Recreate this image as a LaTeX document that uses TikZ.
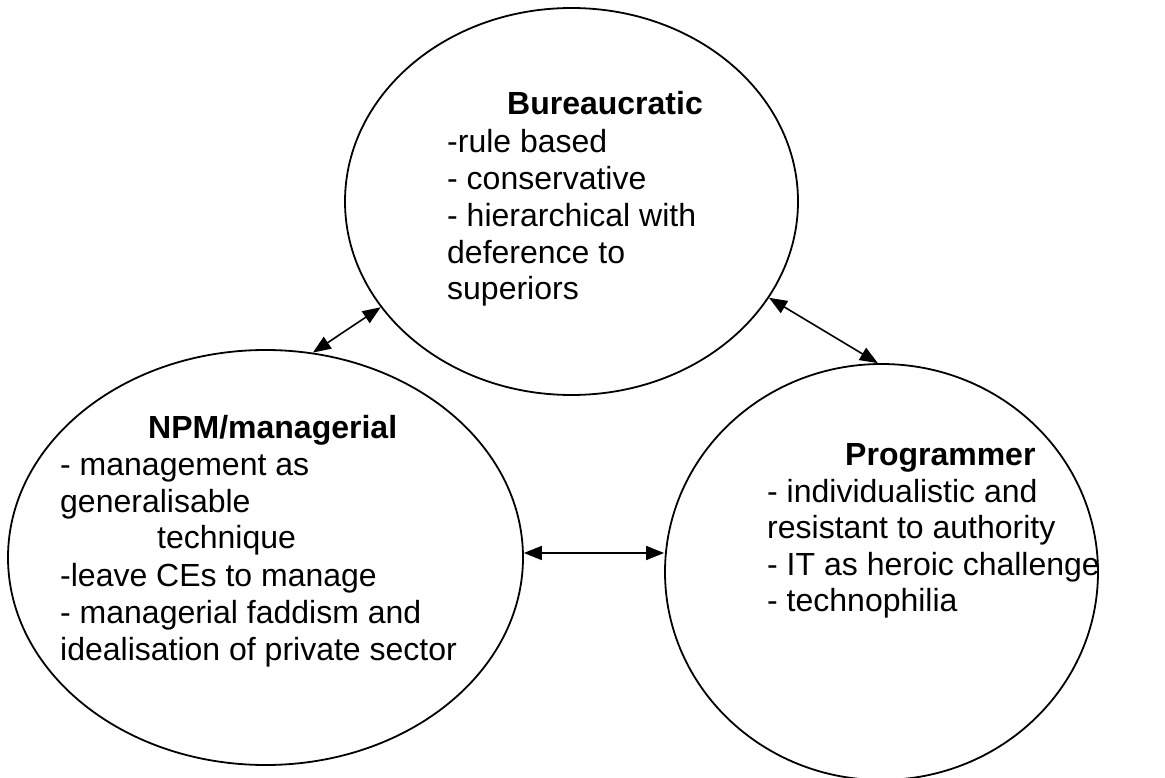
\documentclass[tikz,border=0pt]{standalone}
\usepackage{fontspec}
\setmainfont{Liberation Sans}
\usetikzlibrary{shapes.geometric,arrows.meta}
\begin{document}
\begin{tikzpicture}[x=1pt,y=-1pt,
  oval/.style={draw,ellipse,line width=1.8pt,inner sep=0pt},
  ln/.style={anchor=base west,inner sep=0pt,font=\fontsize{32}{36}\selectfont},
  hd/.style={ln,font=\fontsize{32}{36}\selectfont\bfseries},
  link/.style={line width=1.6pt,{Triangle[length=18pt,width=14pt]}-{Triangle[length=18pt,width=14pt]}}]
\useasboundingbox (0,0) rectangle (1165,778);
\node[oval,minimum width=453pt,minimum height=387pt] (top) at (571.5,201.5) {};
\node[oval,minimum width=515pt,minimum height=415pt] (left) at (265.5,557.5) {};
\node[oval,minimum width=433pt,minimum height=416pt] (right) at (881.5,572) {};
% top text
\node[hd] (t0) at (507,115) {Bureaucratic};
\node[ln] (t1) at (447,153) {-rule based};
\node[ln] (t2) at (447,190) {- conservative};
\node[ln] (t3) at (447,227) {- hierarchical with};
\node[ln] (t4) at (447,263) {deference to};
\node[ln] (t5) at (447,299) {superiors};
% left text
\node[hd] (l0) at (148,438) {NPM/managerial};
\node[ln] (l1) at (60,475) {- management as};
\node[ln] (l2) at (60,512) {generalisable};
\node[ln] (l3) at (157,548) {technique};
\node[ln] (l4) at (60,586) {-leave CEs to manage};
\node[ln] (l5) at (60,623) {- managerial faddism and};
\node[ln] (l6) at (60,660) {idealisation of private sector};
% right text
\node[hd] (r0) at (845,465) {Programmer};
\node[ln] (r1) at (767,502) {- individualistic and};
\node[ln] (r2) at (767,538) {resistant to authority};
\node[ln] (r3) at (767,575) {- IT as heroic challenge};
\node[ln] (r4) at (767,611) {- technophilia};
% connectors
\draw[link] (left.77.6) -- (top.209.2);
\draw[link] (top.334.4) -- (right.91);
\draw[link] (left.1) -- (left.1 -| right.west);
\end{tikzpicture}
\end{document}
